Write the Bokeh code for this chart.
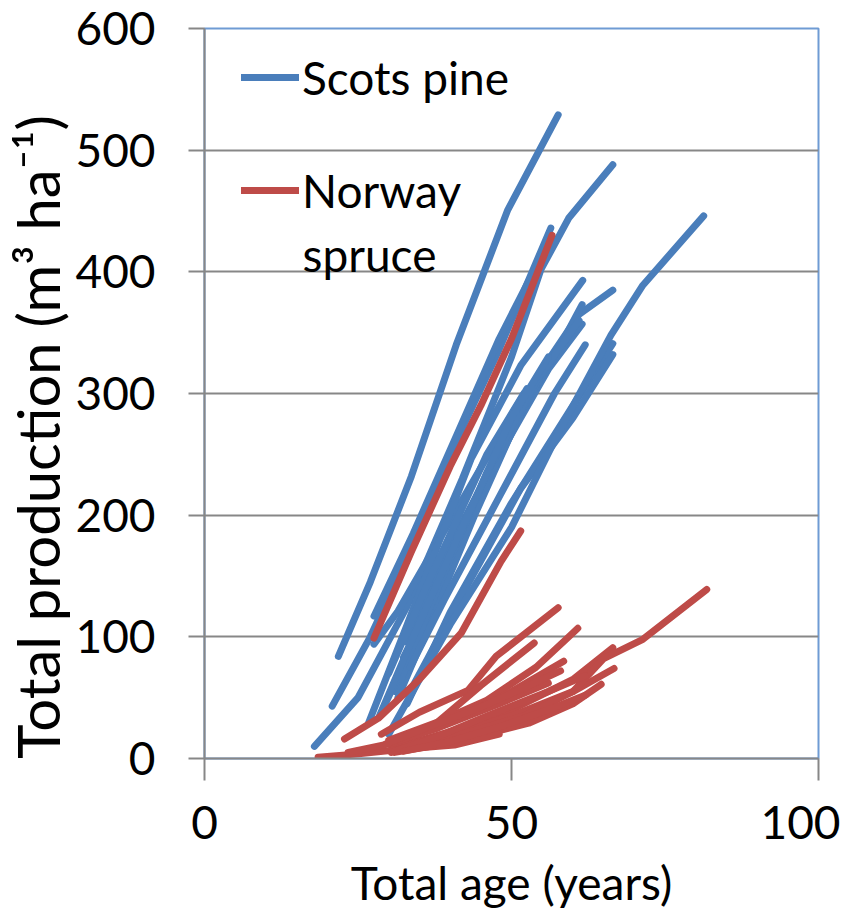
import math
from bokeh.plotting import figure
from bokeh.models import Legend, LegendItem, Label, FixedTicker, Range1d
from bokeh.embed import file_html
from bokeh.resources import INLINE

# ---------------- data ----------------
# Scots pine stands: total age (years) and total production (m3/ha)
pine_age = [
    [21.8, 27.0, 33.7, 41.0, 49.4, 57.6],
    [17.9, 25.0, 33.0, 42.0, 50.0, 54.8, 59.3, 66.5],
    [20.8, 27.0, 33.0, 40.0, 47.8, 56.4],
    [27.6, 34.0, 41.0, 48.0, 56.4],
    [27.6, 31.5, 41.8, 52.5],
    [26.7, 33.0, 43.4, 51.5, 61.6],
    [32.4, 38.0, 45.0, 55.0, 61.0, 66.5],
    [32.8, 40.0, 50.0, 58.0, 61.5],
    [31.0, 38.0, 47.0, 56.0, 61.5],
    [33.0, 40.0, 50.0, 60.0, 66.5],
    [34.0, 42.0, 51.5, 60.0, 66.5],
    [30.0, 40.0, 50.0, 58.0, 66.2, 71.4, 81.3],
    [29.0, 35.0, 45.0, 55.0, 60.0],
    [30.0, 36.0, 46.0, 52.0],
    [31.5, 37.0, 44.0, 52.0, 58.0],
    [32.0, 38.0, 46.0, 54.0, 61.0],
    [28.5, 34.0, 42.0, 50.0, 56.0],
    [33.5, 39.0, 48.0, 57.0, 62.0],
]
pine_prod = [
    [84, 145, 232, 340, 451, 529],
    [10, 50, 125, 230, 330, 402, 444, 488],
    [43, 100, 165, 250, 334, 436],
    [117, 185, 265, 345, 428],
    [94, 121, 211, 304],
    [29, 110, 246, 323, 393],
    [83, 140, 220, 320, 365, 385],
    [96, 175, 270, 340, 373],
    [55, 140, 240, 320, 357],
    [45, 120, 210, 290, 341],
    [60, 135, 222, 280, 332],
    [20, 110, 190, 271, 348, 389, 446],
    [40, 105, 215, 320, 352],
    [70, 140, 250, 300],
    [50, 115, 200, 290, 340],
    [65, 140, 235, 310, 360],
    [35, 100, 190, 280, 330],
    [75, 130, 215, 300, 340],
]

# Norway spruce stands
spruce_age = [
    [27.6, 33.7, 40.0, 45.0, 50.0, 56.6],
    [22.8, 28.3, 35.0, 41.8, 48.3, 51.5],
    [28.8, 35.0, 42.9, 47.5, 57.6],
    [30.0, 38.0, 46.0, 54.0, 58.9, 60.8],
    [31.0, 38.0, 45.0, 53.7],
    [30.0, 40.0, 50.0, 58.5],
    [30.5, 40.0, 50.0, 60.0, 66.5],
    [31.0, 40.0, 50.0, 60.0, 66.7],
    [31.0, 40.3, 52.8, 60.0, 64.6],
    [32.0, 42.0, 52.0, 60.0, 65.0, 71.4, 81.8],
    [18.5, 25.5, 33.0, 40.7, 48.0],
    [23.4, 30.0, 38.0, 48.0, 56.0],
    [30.4, 38.0, 46.0, 56.0, 62.0],
    [29.5, 36.0, 44.0, 52.0, 58.0],
    [32.5, 40.0, 48.0, 56.0, 62.0],
]
spruce_prod = [
    [99, 170, 240, 290, 345, 430],
    [16, 33, 65, 103, 162, 187],
    [20, 38, 56, 84, 124],
    [15, 30, 48, 75, 98, 107],
    [10, 30, 60, 95],
    [12, 30, 55, 80],
    [8, 22, 40, 65, 91],
    [10, 20, 35, 55, 74],
    [5, 13, 29, 45, 61],
    [8, 20, 35, 55, 82, 98, 139],
    [1, 4, 8, 11, 20],
    [5, 12, 25, 45, 62],
    [5, 18, 35, 55, 68],
    [12, 25, 40, 58, 72],
    [6, 14, 26, 40, 52],
]

x_ticks = [0, 50, 100]
y_ticks = [0, 100, 200, 300, 400, 500, 600]
series_names = ["Scots pine", "Norway", "spruce"]
x_title = "Total age (years)"
y_title = "Total production (m³ ha⁻¹)"

# ---------------- styling ----------------
BLUE = "#4a7ebb"
RED = "#be4b48"
GRID = "#878787"
FONT = "Lato"
FS = "46px"
TICK_FS = "46px"
YTITLE_FS = "58px"

p = figure(width=840, height=915, output_backend="svg", toolbar_location=None,
           x_range=Range1d(0, 100), y_range=Range1d(0, 600))
p.min_border_left = 203
p.min_border_right = 22
p.min_border_top = 28
p.min_border_bottom = 157
p.background_fill_color = "white"
p.border_fill_color = "white"
p.outline_line_color = "#6f9bd4"
p.outline_line_width = 2

pine_r = p.multi_line(pine_age, pine_prod, line_color=BLUE, line_width=7,
                      line_cap="round", line_join="round")
spruce_r = p.multi_line(spruce_age, spruce_prod, line_color=RED, line_width=7,
                        line_cap="round", line_join="round")

# axes
p.xaxis.ticker = FixedTicker(ticks=x_ticks)
p.yaxis.ticker = FixedTicker(ticks=y_ticks)
for ax in (p.xaxis, p.yaxis):
    ax.axis_line_color = GRID
    ax.axis_line_width = 2
    ax.major_tick_line_color = GRID
    ax.major_tick_line_width = 2
    ax.minor_tick_line_color = None
    ax.major_tick_in = 0
    ax.major_label_text_font = FONT
    ax.major_label_text_font_size = TICK_FS
    ax.major_label_text_color = "black"
    ax.axis_label_text_font = FONT
    ax.axis_label_text_font_style = "normal"
    ax.axis_label_text_color = "black"
p.xaxis.major_tick_out = 22
p.yaxis.major_tick_out = 16
p.xaxis.major_label_standoff = 25
p.yaxis.major_label_standoff = 33
p.xaxis.axis_label = x_title
p.xaxis.axis_label_text_font_size = FS
p.xaxis.axis_label_standoff = 13
# trailing em spaces shift the centred title toward the bottom, as in the original
p.yaxis.axis_label = y_title + "\u2003\u2003"
p.yaxis.axis_label_text_font_size = YTITLE_FS
p.yaxis.axis_label_standoff = 0

p.xgrid.grid_line_color = None
p.ygrid.ticker = FixedTicker(ticks=y_ticks)
p.ygrid.grid_line_color = GRID
p.ygrid.grid_line_width = 2

legend = Legend(items=[LegendItem(label=series_names[0], renderers=[pine_r]),
                       LegendItem(label=series_names[1], renderers=[spruce_r])],
                location=(37, 538), orientation="vertical",
                glyph_width=58, glyph_height=60, label_height=60,
                label_standoff=3, spacing=53, padding=0, margin=0,
                label_text_font=FONT, label_text_font_size=FS,
                label_text_color="black",
                border_line_color=None, background_fill_alpha=0)
p.add_layout(legend)

spruce_lab = Label(x=98, y=504, x_units="screen", y_units="screen",
                   text=series_names[2], text_align="left", text_baseline="middle",
                   text_font=FONT, text_font_size=FS, text_color="black")
p.add_layout(spruce_lab)

open("out.html", "w").write(file_html(p, INLINE))
